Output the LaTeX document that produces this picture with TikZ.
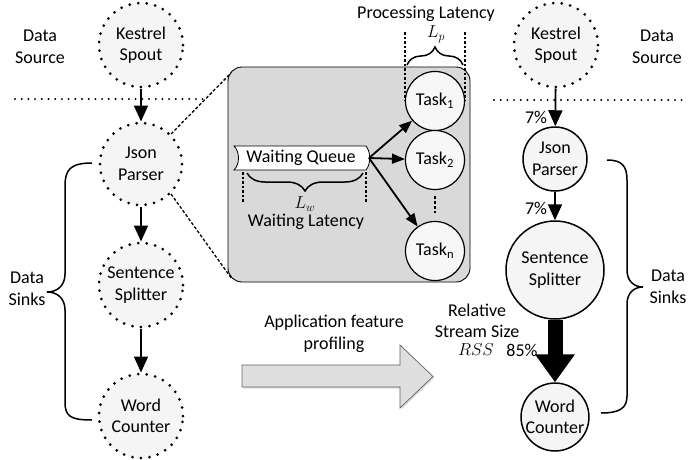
\documentclass[tikz,border=0pt]{standalone}
\usepackage{fontspec}
\setmainfont{Carlito}
\usetikzlibrary{arrows.meta,decorations.pathreplacing,shadows}

\begin{document}
\begin{tikzpicture}[x=1pt,y=-1pt,
  every node/.style={font=\fontsize{18}{21.5}\selectfont, align=center},
  dotnode/.style={circle, draw, fill=gray!8, minimum size=#1, inner sep=0pt,
    line width=3pt, dash pattern=on 0pt off 8.6pt, line cap=round},
  solidnode/.style={circle, draw, fill=gray!8, minimum size=#1, inner sep=0pt,
    line width=1.5pt},
  task/.style={circle, draw, fill=gray!6, minimum size=59pt, inner sep=0pt,
    line width=1.2pt},
  flow/.style={line width=1.8pt, -{Triangle[length=16pt,width=14pt]}},
  taskflow/.style={line width=1.8pt, -{Triangle[length=13pt,width=10pt]}},
  tier/.style={line width=2.2pt, dash pattern=on 0pt off 6.7pt, line cap=round},
  zoomline/.style={line width=1.3pt, dash pattern=on 3pt off 2pt},
  mark line/.style={line width=1.4pt, dash pattern=on 2.5pt off 2pt},
  bracket/.style={line width=1.5pt},
  curly/.style={decorate, line width=1.5pt, decoration={brace, amplitude=18pt}},
]
\useasboundingbox (0,0) rectangle (689,459);

% tier separators
\draw[tier] (15,99) -- (207,99);
\draw[tier] (494,100) -- (685,100);

% ---------- left topology ----------
\node[dotnode=84pt] (ks) at (141,45) {Kestrel\\Spout};
\node[dotnode=82pt] (jp) at (141,164) {Json\\Parser};
\node[dotnode=84pt] (ss) at (141,285) {Sentence\\Splitter};
\node[dotnode=84pt] (wc) at (141,416) {Word\\Counter};
\draw[flow] (ks) -- (jp);
\draw[flow] (jp) -- (ss);
\draw[flow] (ss) -- (wc);

\node (srcL) at (40,47) {Data\\Source};
\node (sinkL) at (27,289) {Data\\Sinks};
\draw[bracket] (92,163) .. controls (70,163) and (65,170) .. (65,186)
  -- (65,274) .. controls (65,286) and (57,292) .. (47,292)
  .. controls (57,292) and (65,298) .. (65,310)
  -- (65,402) .. controls (65,416) and (70,420) .. (92,420);

% ---------- zoomed-in operator ----------
\coordinate (bnw) at (233,71);
\coordinate (bsw) at (232,279);
\draw[zoomline] (jp.45) -- (bnw);
\draw[zoomline] (jp.-45) -- (bsw);
\node[draw, line width=0.9pt, rounded corners=14pt, fill=gray!30,
  minimum width=242pt, minimum height=215pt] (box) at (349,174.5) {};

\draw[fill=white, line width=0.8pt] (234,146) .. controls (240,152) and (240,164) .. (234,170)
  -- (366,170) .. controls (371,164) and (371,152) .. (366,146) -- cycle;
\node (wq) at (301,158) {Waiting Queue};
\coordinate (wqe) at (369,158);

\node[task] (t1) at (435,101) {Task\textsubscript{1}};
\node[task] (t2) at (435,160) {Task\textsubscript{2}};
\node[task] (tn) at (435,251) {Task\textsubscript{n}};
\draw[taskflow] (wqe) -- (t1);
\draw[taskflow] (wqe) -- (t2);
\draw[taskflow] (wqe) -- (tn);
\draw[line width=1.8pt, dash pattern=on 2.5pt off 2.5pt] (435,196) -- (435,213);

% waiting latency
\draw[mark line] (243,172) -- (243,202);
\draw[mark line] (366,172) -- (366,202);
\draw[curly, decoration={mirror}] (247,173) -- (363,173);
\node (lw) at (305,204) {$L_w$};
\node (wl) at (306,222) {Waiting Latency};

% processing latency
\draw[mark line] (405,32) -- (405,100);
\draw[mark line] (465,32) -- (465,100);
\draw[curly] (407,65) -- (463,65);
\node (lp) at (436,34) {$L_p$};
\node (pl) at (426,14) {Processing Latency};

% ---------- profiling arrow ----------
\draw[fill=gray!25, draw=gray!75!black, line width=0.7pt,
  drop shadow={opacity=0.25, shadow xshift=1.5pt, shadow yshift=-1.5pt}]
  (242,365) -- (400,365) -- (400,345) -- (433,376.5) -- (400,408) -- (400,387) -- (242,387) -- cycle;
\node (prof) at (334,334) {Application feature\\profiling};

% ---------- right topology ----------
\node[dotnode=84pt] (ks2) at (556,45) {Kestrel\\Spout};
\node[solidnode=64pt] (jp2) at (555,159) {Json\\Parser};
\node[solidnode=98pt] (ss2) at (555,270) {Sentence\\Splitter};
\node[solidnode=64pt] (wc2) at (555,417) {Word\\Counter};
\draw[flow] (ks2) -- (jp2);
\draw[flow] (jp2) -- (ss2);
\draw[line width=15pt, -{Triangle[length=28pt,width=38pt]}] (ss2) -- (wc2);
\node (p1) at (536,117) {7\%};
\node (p2) at (536,208) {7\%};
\node (rss) at (477,321) {Relative\\Stream Size};
\node (rssv) at (476,350) {$RSS$};
\node (p3) at (522,350) {85\%};

\node (srcR) at (657,47) {Data\\Source};
\node (sinkR) at (668,287) {Data\\Sinks};
\draw[bracket] (607,160) .. controls (622,160) and (627,166) .. (627,180)
  -- (627,270) .. controls (627,281) and (634,287) .. (643,287)
  .. controls (634,287) and (627,293) .. (627,304)
  -- (627,396) .. controls (627,408) and (620,413) .. (601,413);
\end{tikzpicture}
\end{document}
